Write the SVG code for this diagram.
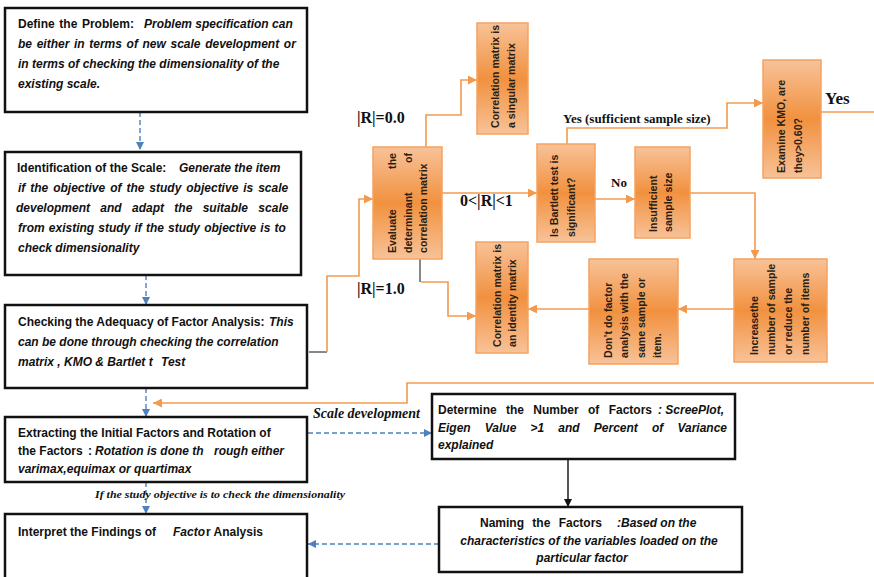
<svg xmlns="http://www.w3.org/2000/svg" width="874" height="577" viewBox="0 0 874 577">
<defs>
<style>
.bx{fill:#fff;stroke:#111;stroke-width:2.5}
.ob{fill:url(#og);stroke:#f5a261;stroke-width:1.5}
.t{font-family:"Liberation Sans",Arial,sans-serif;font-size:12px;font-weight:bold;fill:#111}
.i{font-style:italic}
.ot{font-family:"Liberation Sans",Arial,sans-serif;font-size:10.6px;font-weight:bold;fill:#2a1d14}
.lb{font-family:"Liberation Serif","Times New Roman",serif;font-weight:bold;fill:#111}
.bl{fill:none;stroke:#4f81bd;stroke-width:1.4;stroke-dasharray:5,3}
.or{fill:none;stroke:#f39a4f;stroke-width:1.6}
.gr{fill:none;stroke:#555;stroke-width:1.4}
.bk{fill:none;stroke:#111;stroke-width:1.4}
</style>
<linearGradient id="og" x1="0" y1="0" x2="0" y2="1">
<stop offset="0" stop-color="#f8c298"/>
<stop offset="0.5" stop-color="#f1913f"/>
<stop offset="1" stop-color="#f8c298"/>
</linearGradient>
<marker id="ab" viewBox="0 0 8 8" refX="8" refY="4" markerWidth="8" markerHeight="8" markerUnits="userSpaceOnUse" orient="auto"><path d="M0,0 L8,4 L0,8 z" fill="#4f81bd"/></marker>
<marker id="ao" viewBox="0 0 9 9" refX="9" refY="4.5" markerWidth="9" markerHeight="9" markerUnits="userSpaceOnUse" orient="auto"><path d="M0,0 L9,4.5 L0,9 z" fill="#f39a4f"/></marker>
<marker id="ak" viewBox="0 0 8 8" refX="8" refY="4" markerWidth="8" markerHeight="8" markerUnits="userSpaceOnUse" orient="auto"><path d="M0,0 L8,4 L0,8 z" fill="#111"/></marker>
</defs>
<rect width="874" height="577" fill="#fff"/>

<g id="connectors">
<path class="bl" d="M140,112 V150" marker-end="url(#ab)"/>
<path class="bl" d="M146,275 V305" marker-end="url(#ab)"/>
<path class="bl" d="M146,388 V417" marker-end="url(#ab)"/>
<path class="bl" d="M146,482 V514" marker-end="url(#ab)"/>
<path class="bl" d="M308,433 H432" marker-end="url(#ab)"/>
<path class="bl" d="M439,544 H308" marker-end="url(#ab)"/>
<path class="bk" d="M568,459 V507" marker-end="url(#ak)"/>
<path class="gr" d="M309,352 H327"/>
<path class="or" d="M327,352 V276 H359 V199 H373" marker-end="url(#ao)"/>
<path class="or" d="M426,147 V115 H461 V80 H477" marker-end="url(#ao)"/>
<path class="or" d="M442,193 H537" marker-end="url(#ao)"/>
<path class="gr" d="M420,259 V282"/>
<path class="or" d="M421,282 H448 V316 H476" marker-end="url(#ao)"/>
<path class="or" d="M567,144 V128 H727 V103 H763" marker-end="url(#ao)"/>
<path class="or" d="M595,199 H635" marker-end="url(#ao)"/>
<path class="or" d="M690,193 H755 V259" marker-end="url(#ao)"/>
<path class="or" d="M734,309 H678" marker-end="url(#ao)"/>
<path class="or" d="M589,309 H528" marker-end="url(#ao)"/>
<path class="or" d="M821,112 H874"/>
<path class="or" d="M874,383 H407 V403 H153" marker-end="url(#ao)"/>
<text class="lb" x="357" y="123" font-size="16">|R|=0.0</text>
<text class="lb" x="357" y="294" font-size="16">|R|=1.0</text>
<text class="lb" x="460" y="206" font-size="16">0&lt;|R|&lt;1</text>
<text class="lb" x="563" y="123" font-size="13">Yes (sufficient sample size)</text>
<text class="lb" x="611" y="187" font-size="13">No</text>
<text class="lb" x="825" y="104" font-size="17">Yes</text>
<text class="lb i" x="313" y="418" font-size="14">Scale development</text>
<text class="lb i" x="95" y="498" font-size="11" textLength="250" lengthAdjust="spacingAndGlyphs">If the study objective is to check the dimensionality</text>
</g>

<g id="n1">
<rect class="bx" x="5" y="8" width="302" height="104"/>
<text class="t" x="18" y="28" word-spacing="1.3">Define the Problem:</text>
<text class="t i" x="144" y="28">Problem specification can</text>
<text class="t i" x="18" y="48" word-spacing="1.3">be either in terms of new scale development or</text>
<text class="t i" x="18" y="68">in terms of checking the dimensionality of the</text>
<text class="t i" x="18" y="88">existing scale.</text>
</g>

<g id="n2">
<rect class="bx" x="5" y="152" width="296" height="123"/>
<text class="t" x="17" y="172">Identification of the Scale:</text>
<text class="t i" x="179" y="172">Generate the item</text>
<text class="t i" x="18" y="192" word-spacing="1.6">if the objective of the study objective is scale</text>
<text class="t i" x="16" y="212" word-spacing="7">development and adapt the suitable scale</text>
<text class="t i" x="18" y="232" word-spacing="0.8">from existing study if the study objective is to</text>
<text class="t i" x="18" y="252">check dimensionality</text>
</g>

<g id="n3">
<rect class="bx" x="5" y="305" width="302" height="83"/>
<text class="t" x="18" y="326">Checking the Adequacy of Factor Analysis:</text>
<text class="t i" x="269" y="326">This</text>
<text class="t i" x="18" y="346">can be done through checking the correlation</text>
<text class="t i" x="18" y="366">matrix , KMO &amp; Bartlet t</text>
<text class="t i" x="161" y="366">Test</text>
</g>

<g id="n4">
<rect class="bx" x="5" y="417" width="302" height="65"/>
<text class="t" x="18" y="437">Extracting the Initial Factors and Rotation of</text>
<text class="t" x="18" y="455">the Factors</text>
<text class="t" x="88" y="455">:</text>
<text class="t i" x="95" y="455">Rotation is done th</text>
<text class="t i" x="214" y="455">rough either</text>
<text class="t i" x="18" y="473">varimax,equimax or quartimax</text>
</g>

<g id="n5">
<rect class="bx" x="5" y="514" width="302" height="70"/>
<text class="t" x="18" y="536">Interpret the Findings of</text>
<text class="t i" x="173" y="536">Facto</text>
<text class="t" x="206" y="536">r Analysis</text>
</g>

<g id="n6">
<rect class="bx" x="432" y="394" width="303" height="65"/>
<text class="t" x="438" y="414" word-spacing="6">Determine the Number of Factors</text>
<text class="t i" x="658" y="414">: ScreePlot,</text>
<text class="t i" x="438" y="432" word-spacing="10.8">Eigen Value &gt;1 and Percent of Variance</text>
<text class="t i" x="438" y="449">explained</text>
</g>

<g id="n7">
<rect class="bx" x="439" y="507" width="303" height="65"/>
<text class="t" x="480" y="527" word-spacing="5">Naming the Factors</text>
<text class="t i" x="617" y="527">:Based on the</text>
<text class="t i" x="589" y="545" text-anchor="middle">characteristics of the variables loaded on the</text>
<text class="t i" x="582" y="562" text-anchor="middle">particular factor</text>
</g>

<g id="o1">
<rect class="ob" x="477" y="23" width="51" height="111"/>
<text class="ot" transform="translate(499,128) rotate(-90)">Correlation matrix is</text>
<text class="ot" transform="translate(515,128) rotate(-90)">a singular matrix</text>
</g>

<g id="o2">
<rect class="ob" x="373" y="147" width="69" height="112"/>
<text class="ot" transform="translate(396,253) rotate(-90)">Evaluate</text>
<text class="ot" text-anchor="end" transform="translate(396,153) rotate(-90)">the</text>
<text class="ot" transform="translate(412,253) rotate(-90)">determinant</text>
<text class="ot" text-anchor="end" transform="translate(412,153) rotate(-90)">of</text>
<text class="ot" transform="translate(427,253) rotate(-90)">correlation matrix</text>
</g>

<g id="o3">
<rect class="ob" x="476" y="242" width="52" height="111"/>
<text class="ot" transform="translate(501,347) rotate(-90)">Correlation matrix is</text>
<text class="ot" transform="translate(516,347) rotate(-90)">an identity matrix</text>
</g>

<g id="o4">
<rect class="ob" x="537" y="144" width="58" height="98"/>
<text class="ot" transform="translate(558,237) rotate(-90)">Is Bartlett test is</text>
<text class="ot" transform="translate(575,237) rotate(-90)">significant?</text>
</g>

<g id="o5">
<rect class="ob" x="635" y="147" width="55" height="91"/>
<text class="ot" transform="translate(657,232) rotate(-90)">Insufficient</text>
<text class="ot" transform="translate(672,232) rotate(-90)">sample size</text>
</g>

<g id="o6">
<rect class="ob" x="763" y="60" width="58" height="118"/>
<text class="ot" transform="translate(785,173) rotate(-90)">Examine KMO, are</text>
<text class="ot" transform="translate(802,173) rotate(-90)">they&gt;0.60?</text>
</g>

<g id="o7">
<rect class="ob" x="734" y="259" width="93" height="103"/>
<text class="ot" transform="translate(758,355) rotate(-90)">Increasethe</text>
<text class="ot" transform="translate(775,355) rotate(-90)">number of sample</text>
<text class="ot" transform="translate(792,355) rotate(-90)">or reduce the</text>
<text class="ot" transform="translate(809,355) rotate(-90)">number of items</text>
</g>

<g id="o8">
<rect class="ob" x="589" y="259" width="89" height="105"/>
<text class="ot" transform="translate(612,358) rotate(-90)">Don’t do factor</text>
<text class="ot" transform="translate(628,358) rotate(-90)">analysis with the</text>
<text class="ot" transform="translate(645,358) rotate(-90)">same sample or</text>
<text class="ot" transform="translate(661,358) rotate(-90)">item.</text>
</g>
</svg>
